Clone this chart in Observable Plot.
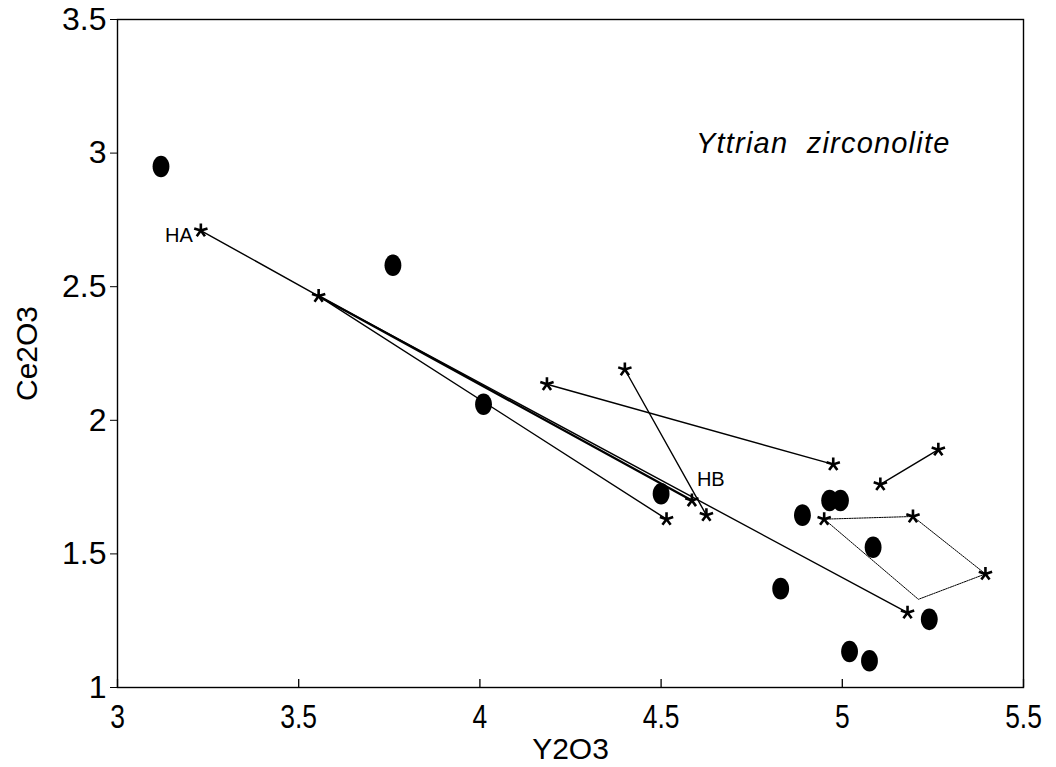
<!DOCTYPE html>
<html>
<head>
<meta charset="utf-8">
<script src="https://cdn.jsdelivr.net/npm/d3@7"></script>
<script src="https://cdn.jsdelivr.net/npm/@observablehq/plot@0.6"></script>
<style>
  html, body { margin: 0; padding: 0; background: white; }
</style>
</head>
<body>
<div id="chart"></div>
<script>
// ---- data ----
const xTicks = [3, 3.5, 4, 4.5, 5, 5.5];
const yTicks = [1, 1.5, 2, 2.5, 3, 3.5];

// filled ellipses
const circleX = [3.12, 3.76, 4.01, 4.50, 4.89, 4.965, 4.995, 5.085, 4.83, 5.24, 5.02, 5.075];
const circleY = [2.95, 2.58, 2.06, 1.725, 1.645, 1.70, 1.70, 1.525, 1.37, 1.255, 1.135, 1.10];

// asterisks
const starX = [3.23, 3.555, 4.185, 4.40, 4.585, 4.515, 4.625, 4.975, 5.105, 5.265, 4.95, 5.195, 5.395, 5.18];
const starY = [2.71, 2.465, 2.135, 2.19, 1.70, 1.63, 1.645, 1.835, 1.76, 1.89, 1.63, 1.64, 1.425, 1.28];

// solid connecting lines
const lineId = ["A", "A", "A", "C", "C", "E", "E", "F", "F", "G", "G"];
const lineX  = [3.23, 3.555, 5.18, 3.555, 4.515, 4.185, 4.975, 4.40, 4.625, 5.105, 5.265];
const lineY  = [2.71, 2.465, 1.28, 2.465, 1.63, 2.135, 1.835, 2.19, 1.645, 1.76, 1.89];

// heavier segment to HB
const heavyX = [3.555, 4.585];
const heavyY = [2.465, 1.70];

// dotted polygon
const polyX = [4.95, 5.195, 5.395, 5.21, 4.95];
const polyY = [1.63, 1.64, 1.425, 1.33, 1.63];

// point labels
const labelText = ["HA", "HB"];
const labelX = [3.23, 4.585];
const labelY = [2.71, 1.70];

const titleText = "Yttrian  zirconolite";
const xLabel = "Y2O3";
const yLabel = "Ce2O3";

// ---- build ----
const circles = circleX.map((x, i) => ({x, y: circleY[i]}));
const stars = starX.map((x, i) => ({x, y: starY[i]}));
const lines = lineX.map((x, i) => ({id: lineId[i], x, y: lineY[i]}));
const heavy = heavyX.map((x, i) => ({x, y: heavyY[i]}));
const poly = polyX.map((x, i) => ({x, y: polyY[i]}));
const labels = labelText.map((t, i) => ({t, x: labelX[i], y: labelY[i]}));

const ellipseSymbol = {
  draw(ctx, size) {
    const r = Math.sqrt(size / Math.PI);
    const rx = r * 0.78, ry = r, k = 0.5523;
    ctx.moveTo(rx, 0);
    ctx.bezierCurveTo(rx, ry * k, rx * k, ry, 0, ry);
    ctx.bezierCurveTo(-rx * k, ry, -rx, ry * k, -rx, 0);
    ctx.bezierCurveTo(-rx, -ry * k, -rx * k, -ry, 0, -ry);
    ctx.bezierCurveTo(rx * k, -ry, rx, -ry * k, rx, 0);
    ctx.closePath();
  }
};
const starSymbol = {
  draw(ctx, size) {
    const r = Math.sqrt(size / Math.PI);
    for (let i = 0; i < 5; i++) {
      const a = -Math.PI / 2 + i * 2 * Math.PI / 5;
      ctx.moveTo(0, 0);
      ctx.lineTo(r * Math.cos(a), r * Math.sin(a));
    }
  }
};

const W = 1056, H = 767;
const mT = 19, mB = 80, mL = 117, mR = 33;
const font = "'Liberation Sans', Arial, Helvetica, sans-serif";

const chart = Plot.plot({
  width: W,
  height: H,
  marginTop: mT,
  marginBottom: mB,
  marginLeft: mL,
  marginRight: mR,
  style: {fontFamily: font, background: "white", color: "black"},
  x: {domain: [3, 5.5]},
  y: {domain: [1, 3.5]},
  marks: [
    Plot.frame({stroke: "black", strokeWidth: 1.4}),
    Plot.axisY({ticks: yTicks, tickSize: 7, tickPadding: 4, fontSize: 32, tickFormat: d => String(d), label: null}),
    Plot.axisY({ticks: [], tickSize: 0, fontSize: 30, label: yLabel, labelArrow: "none",
      labelAnchor: "center", labelOffset: 102}),
    Plot.axisX({ticks: xTicks, tickSize: 0, tickPadding: 17, fontSize: 33, tickFormat: d => String(d), label: null}),
    Plot.axisX({ticks: [], tickSize: 0, fontSize: 30, label: xLabel, labelArrow: "none",
      labelAnchor: "center", labelOffset: 71}),
    Plot.tickX(xTicks, {x: d => d, stroke: "black", strokeWidth: 1.3, insetTop: H - mT - mB - 8}),
    Plot.line(poly, {x: "x", y: "y", stroke: "black", strokeWidth: 1, strokeDasharray: "1.5,1"}),
    Plot.line(lines, {x: "x", y: "y", z: "id", stroke: "black", strokeWidth: 1.4}),
    Plot.line(heavy, {x: "x", y: "y", stroke: "black", strokeWidth: 2.4}),
    Plot.dot(circles, {x: "x", y: "y", r: 10.8, symbol: ellipseSymbol, fill: "black", stroke: "none"}),
    Plot.dot(stars, {x: "x", y: "y", r: 7, symbol: starSymbol, fill: "none", stroke: "black", strokeWidth: 2.6}),
    Plot.text([labels[0]], {x: "x", y: "y", text: "t", textAnchor: "end", dx: -8, dy: 5, fontSize: 20, fill: "black"}),
    Plot.text([labels[1]], {x: "x", y: "y", text: "t", textAnchor: "start", dx: 5, dy: -21, fontSize: 20, fill: "black"}),
    Plot.text([titleText], {text: d => d, frameAnchor: "top-right", dx: -73, dy: 113, textAnchor: "end",
      fontSize: 29, fontStyle: "italic", fill: "black"})
  ]
});

// force tick label sizes and condense x tick labels, as in the reference typeface
d3.select(chart).selectAll('g[aria-label="y-axis tick label"] text').style("font-size", "32px");
d3.select(chart).selectAll('g[aria-label="x-axis tick label"] text').style("font-size", "33px").each(function() {
  const t = this.getAttribute("transform") || "";
  this.setAttribute("transform", t + " scale(0.8,1)");
});
d3.select(chart).selectAll('g[aria-label="text"] text')
  .filter(function() { return this.textContent === titleText; })
  .style("letter-spacing", "1.2px");

document.getElementById("chart").appendChild(chart);
</script>
</body>
</html>
